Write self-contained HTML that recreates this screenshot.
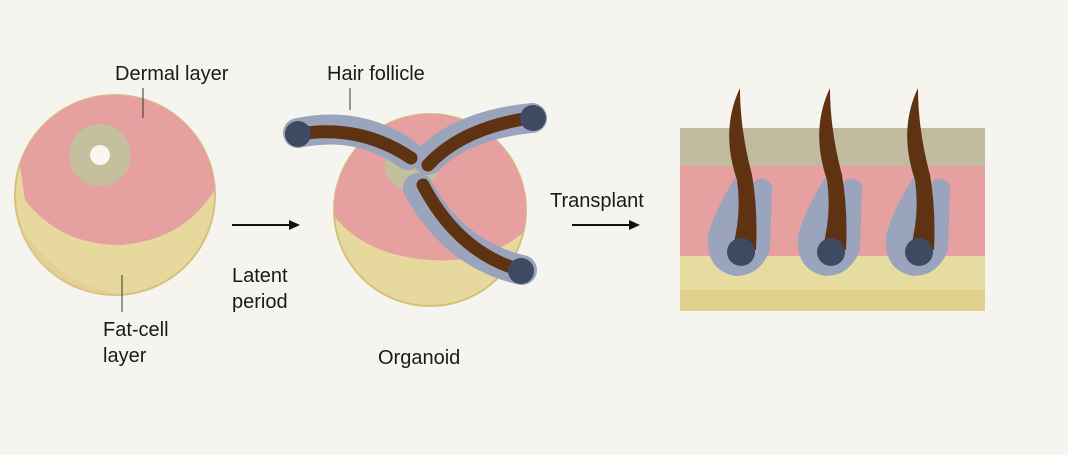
<!DOCTYPE html>
<html><head><meta charset="utf-8"><style>
html,body{margin:0;padding:0;background:#f5f4ee;}
svg{display:block}
text{font-family:"Liberation Sans",sans-serif;font-size:20px;fill:#1a1a1a}
</style></head><body>
<svg width="1068" height="455" viewBox="0 0 1068 455" xmlns="http://www.w3.org/2000/svg">
<defs>
<clipPath id="c1"><circle cx="115" cy="195" r="100"/></clipPath>
<clipPath id="c2"><circle cx="430" cy="210" r="96"/></clipPath>
</defs>
<rect width="1068" height="455" fill="#f5f4ee"/>
<!-- left blob -->
<circle cx="115" cy="195" r="100" fill="#e7d99e" stroke="#d4c27a" stroke-width="2"/>
<g clip-path="url(#c1)">
 <path d="M10,95 H220 V180 Q190,240 120,245 Q60,245 25,200 Z" fill="#e6a0a0"/>
 <path d="M20,225 Q60,290 130,295 L130,320 L0,320Z" fill="#e2c892" opacity="0.6"/>
</g>
<circle cx="100" cy="155" r="31" fill="#c4c09e"/>
<circle cx="100" cy="155" r="10" fill="#f8f6ee"/>
<!-- labels left -->
<text x="115" y="80">Dermal layer</text>
<line x1="143" y1="88" x2="143" y2="118" stroke="#333" stroke-width="1"/>
<line x1="122" y1="275" x2="122" y2="312" stroke="#333" stroke-width="1"/>
<text x="103" y="336">Fat-cell</text>
<text x="103" y="362">layer</text>
<!-- arrow 1 -->
<line x1="232" y1="225" x2="292" y2="225" stroke="#111" stroke-width="2"/>
<path d="M300,225 L289,220 L289,230Z" fill="#111"/>
<text x="232" y="282">Latent</text>
<text x="232" y="308">period</text>
<!-- organoid -->
<circle cx="430" cy="210" r="96" fill="#e7d99e" stroke="#d4c27a" stroke-width="2"/>
<g clip-path="url(#c2)">
 <path d="M320,100 H540 V215 Q500,265 430,260 Q360,255 330,210Z" fill="#e6a0a0"/>
 <path d="M385,150 Q405,135 430,150 Q450,175 420,190 Q395,195 385,170Z" fill="#c4c09e"/>
</g>
<!-- follicles organoid -->
<g stroke="#9aa4bc" stroke-width="30" stroke-linecap="round" fill="none">
 <path d="M298,133 Q360,120 408,155"/>
 <path d="M532,118 Q462,125 428,160"/>
 <path d="M418,188 Q455,255 522,270"/>
</g>
<g stroke="#5f3211" stroke-width="13" stroke-linecap="round" fill="none">
 <path d="M300,134 Q360,124 411,158"/>
 <path d="M530,118 Q462,128 428,165"/>
 <path d="M423,185 Q458,252 520,270"/>
</g>
<circle cx="298" cy="134" r="13" fill="#3e4a62"/>
<circle cx="533" cy="118" r="13" fill="#3e4a62"/>
<circle cx="521" cy="271" r="13" fill="#3e4a62"/>
<text x="327" y="80">Hair follicle</text>
<line x1="350" y1="88" x2="350" y2="110" stroke="#333" stroke-width="1"/>
<text x="378" y="364">Organoid</text>
<!-- arrow 2 -->
<text x="550" y="207">Transplant</text>
<line x1="572" y1="225" x2="632" y2="225" stroke="#111" stroke-width="2"/>
<path d="M640,225 L629,220 L629,230Z" fill="#111"/>
<!-- skin panel -->
<rect x="680" y="128" width="305" height="40" fill="#c1bca0"/>
<rect x="680" y="166" width="305" height="92" fill="#e6a0a0"/>
<rect x="680" y="256" width="305" height="55" fill="#e7dca0"/>
<rect x="680" y="290" width="305" height="21" fill="#e0d08e"/>
<g>
 <g>
  <path d="M735,178 Q715,210 708,235 Q705,270 735,276 Q760,276 770,250 L772,185 Q760,172 752,185 L745,178 Z" fill="#9aa4bc"/>
  <path d="M740,88 Q720,130 737,180 Q742,215 732,250 L756,250 Q758,210 752,175 Q740,130 740,88Z" fill="#5f3211"/>
  <circle cx="741" cy="252" r="14" fill="#3e4a62"/>
 </g>
 <g transform="translate(90,0)">
  <path d="M735,178 Q715,210 708,235 Q705,270 735,276 Q760,276 770,250 L772,185 Q760,172 752,185 L745,178 Z" fill="#9aa4bc"/>
  <path d="M740,88 Q720,130 737,180 Q742,215 732,250 L756,250 Q758,210 752,175 Q740,130 740,88Z" fill="#5f3211"/>
  <circle cx="741" cy="252" r="14" fill="#3e4a62"/>
 </g>
 <g transform="translate(178,0)">
  <path d="M735,178 Q715,210 708,235 Q705,270 735,276 Q760,276 770,250 L772,185 Q760,172 752,185 L745,178 Z" fill="#9aa4bc"/>
  <path d="M740,88 Q720,130 737,180 Q742,215 732,250 L756,250 Q758,210 752,175 Q740,130 740,88Z" fill="#5f3211"/>
  <circle cx="741" cy="252" r="14" fill="#3e4a62"/>
 </g>
</g>
</svg>
</body></html>
